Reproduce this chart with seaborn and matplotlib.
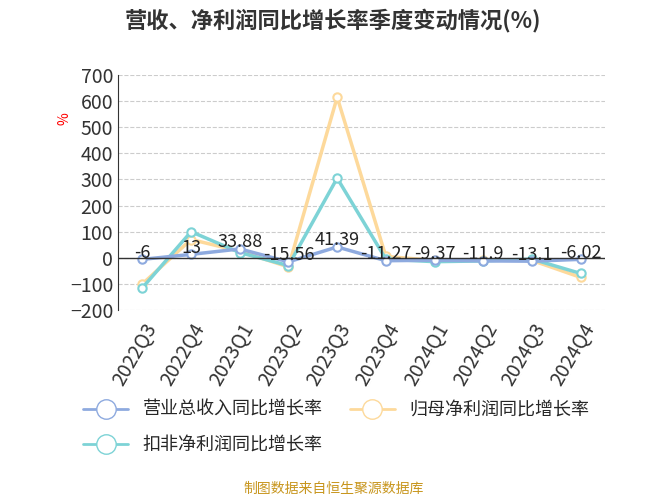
import matplotlib
matplotlib.use('Agg')
import matplotlib.pyplot as plt
import seaborn as sns
import pandas as pd
from matplotlib.lines import Line2D

quarters = ['2022Q3', '2022Q4', '2023Q1', '2023Q2', '2023Q3', '2023Q4', '2024Q1', '2024Q2', '2024Q3', '2024Q4']
revenue = [-6, 13, 33.88, -15.56, 41.39, -11.27, -9.37, -11.9, -13.1, -6.02]
net_profit = [-100, 70, 25, -35, 615, 5, -10, -8, -10, -75]
deducted = [-115, 100, 20, -30, 305, -5, -15, -12, -5, -60]
rev_labels = ['-6', '13', '33.88', '-15.56', '41.39', '-11.27', '-9.37', '-11.9', '-13.1', '-6.02']

sns.set_style('white')
plt.rcParams['font.family'] = ['Noto Sans CJK SC', 'DejaVu Sans']

df = pd.DataFrame({'q': quarters, 'rev': revenue, 'np': net_profit, 'dd': deducted})

fig = plt.figure(figsize=(6.67, 5.0), dpi=100)
ax = fig.add_axes([0.177, 0.38, 0.73, 0.47])

series = [('np', '#fdd99b', '归母净利润同比增长率'),
          ('dd', '#7dd3d6', '扣非净利润同比增长率'),
          ('rev', '#8eaadf', '营业总收入同比增长率')]
for col, color, name in series:
    sns.lineplot(data=df, x='q', y=col, ax=ax, color=color, linewidth=2.5, sort=False,
                 marker='o', markersize=6, markerfacecolor='white', markeredgecolor=color,
                 markeredgewidth=1.5, label=name, legend=False)

for i, lab in enumerate(rev_labels):
    ax.text(i, revenue[i] + 25, lab, ha='center', va='center', fontsize=13, color='#222222')

ax.set_ylim(-200, 700)
ax.set_yticks(range(-200, 701, 100))
ax.set_xlim(-0.5, 9.5)
ax.tick_params(axis='y', labelsize=14, colors='#333333', length=0)
ax.tick_params(axis='x', labelsize=14, colors='#333333', rotation=60)
for t in ax.get_xticklabels():
    t.set_ha('right'); t.set_rotation_mode('anchor')
ax.set_xlabel(''); ax.set_ylabel('')
ax.yaxis.grid(True, linestyle='--', color='#cccccc')
ax.axhline(0, color='#333333', linewidth=1)
for s in ['top', 'right', 'bottom']:
    ax.spines[s].set_visible(False)
ax.spines['left'].set_color('#333333')
ax.text(-0.125, 0.80, '%', transform=ax.transAxes, color='red', fontsize=10, rotation=90)

fig.text(0.5, 0.945, '营收、净利润同比增长率季度变动情况(%)', ha='center', fontsize=16, fontweight='bold', color='#333333')

mk = lambda c: Line2D([], [], color=c, linewidth=2, marker='o', markersize=14, markerfacecolor='white', markeredgecolor=c)
fig.legend([mk('#8eaadf'), mk('#fdd99b')], ['营业总收入同比增长率', '归母净利润同比增长率'],
           loc='center left', bbox_to_anchor=(0.1, 0.18), ncol=2, frameon=False, fontsize=13,
           handlelength=2.5, columnspacing=1.5)
fig.legend([mk('#7dd3d6')], ['扣非净利润同比增长率'],
           loc='center left', bbox_to_anchor=(0.1, 0.11), frameon=False, fontsize=13, handlelength=2.5)

fig.text(0.5, 0.015, '制图数据来自恒生聚源数据库', ha='center', fontsize=10, color='#c8961e')

fig.savefig('out.png', dpi=100)
